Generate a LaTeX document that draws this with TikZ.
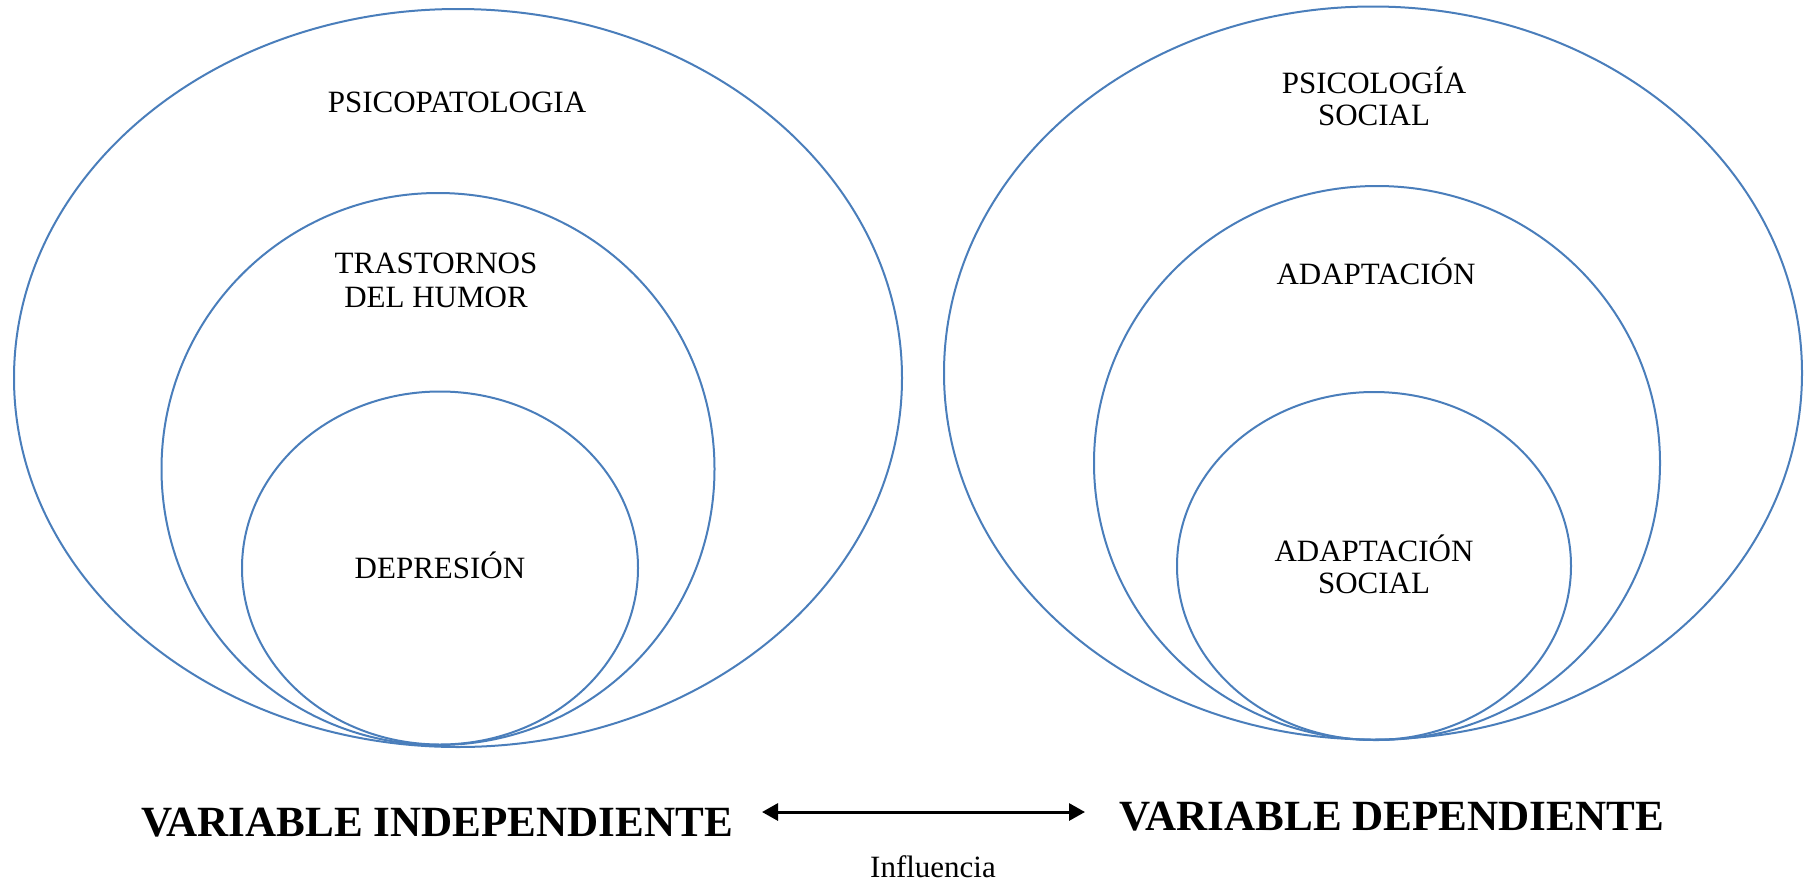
\documentclass[tikz,border=0pt]{standalone}
\usepackage{fontspec}
\setmainfont{Liberation Serif}
\usetikzlibrary{shapes.geometric,arrows.meta}
\definecolor{ringblue}{RGB}{74,126,187}
\begin{document}
\begin{tikzpicture}[x=1pt,y=-1pt,
  ring/.style={ellipse,draw=ringblue,line width=2pt,inner sep=0pt,outer sep=0pt},
  lbl/.style={anchor=base,inner sep=0pt,font=\fontsize{31}{34}\selectfont},
  varlbl/.style={anchor=base,inner sep=0pt,font=\fontsize{43.1}{46}\selectfont\bfseries},
  link/.style={line width=3pt,{Triangle[length=16pt,width=17pt]}-{Triangle[length=16pt,width=17pt]}}]
\useasboundingbox (0,0) rectangle (1810,887);

% left family of nested ellipses
\node[ring,minimum width=888pt,minimum height=738pt] (lout) at (458,378) {};
\node[ring,minimum width=553pt,minimum height=552pt] (lmid) at (438,469) {};
\node[ring,minimum width=396pt,minimum height=353pt] (lin)  at (440,568) {};

% right family of nested ellipses
\node[ring,minimum width=858pt,minimum height=733pt] (rout) at (1373,373) {};
\node[ring,minimum width=566pt,minimum height=554pt] (rmid) at (1377,463) {};
\node[ring,minimum width=394pt,minimum height=348pt] (rin)  at (1374,566) {};

% labels inside the ellipses
\node[lbl] (t1)  at (457,112) {PSICOPATOLOGIA};
\node[lbl] (t2a) at (436,273) {TRASTORNOS};
\node[lbl] (t2b) at (436,307) {DEL HUMOR};
\node[lbl] (t3)  at (440,578) {DEPRESIÓN};
\node[lbl] (t4a) at (1374,93)  {PSICOLOGÍA};
\node[lbl] (t4b) at (1374,125) {SOCIAL};
\node[lbl] (t5)  at (1376,284) {ADAPTACIÓN};
\node[lbl] (t6a) at (1374,561) {ADAPTACIÓN};
\node[lbl] (t6b) at (1374,593) {SOCIAL};

% variables and the influence between them
\node[varlbl] (vi) at (437,836) {VARIABLE INDEPENDIENTE};
\node[varlbl] (vd) at (1392,830) {VARIABLE DEPENDIENTE};
\coordinate (al) at (762,812);
\coordinate (ar) at (1085,812);
\draw[link] (al) -- (ar);
\node[lbl] (inf) at (933,877) {Influencia};
\end{tikzpicture}
\end{document}
